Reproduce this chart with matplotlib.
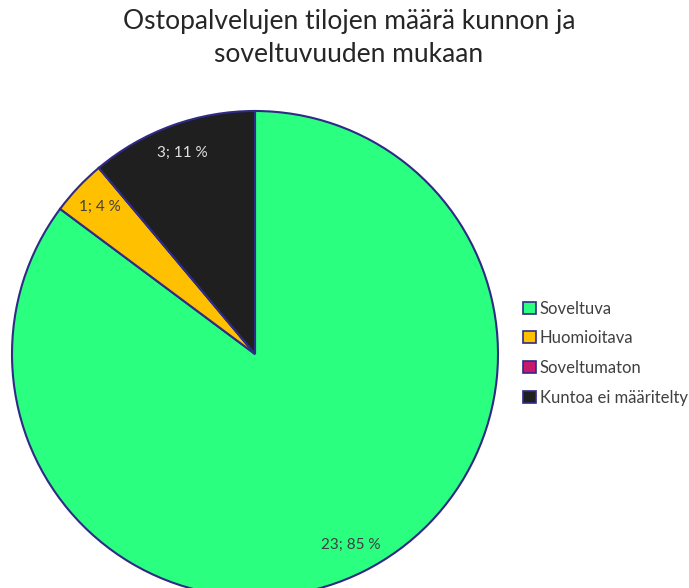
import matplotlib
matplotlib.use("Agg")
import matplotlib.pyplot as plt
from matplotlib.patches import Patch

plt.rcParams['font.family'] = ['Lato', 'DejaVu Sans']

# data
labels = ['Soveltuva', 'Huomioitava', 'Soveltumaton', 'Kuntoa ei määritelty']
counts = [23, 1, 0, 3]
colors = ['#2BFF80', '#FFC000', '#C8186E', '#1F1F1F']
txt_colors = ['#404040', '#404040', '#404040', '#E0E0E0']
edge = '#2E2A86'

total = sum(counts)

def fmt(pct):
    n = int(round(pct * total / 100.0))
    if n == 0:
        return ''
    return '%d; %d %%' % (n, round(pct))

fig = plt.figure(figsize=(6.89, 5.88), dpi=100)
# pie area in pixels: x 12..498, y 111..597 (top origin)
ax = fig.add_axes([12 / 689, (588 - 597) / 588, 486 / 689, 486 / 588])
wedges, texts, autotexts = ax.pie(counts, colors=colors, startangle=90, counterclock=False,
                                  autopct=fmt, pctdistance=0.88, radius=1,
                                  wedgeprops=dict(edgecolor=edge, linewidth=1.5),
                                  textprops=dict(fontsize=11))
for t, c in zip(autotexts, txt_colors):
    t.set_color(c)
ax.set_xlim(-1.0, 1.0)
ax.set_ylim(-1.0, 1.0)
ax.set_aspect('equal')
ax.axis('off')

fig.text(349 / 689, 1 - 22 / 588, 'Ostopalvelujen tilojen määrä kunnon ja',
         ha='center', va='center', fontsize=19, color='#262626')
fig.text(349 / 689, 1 - 55 / 588, 'soveltuvuuden mukaan',
         ha='center', va='center', fontsize=19, color='#262626')

handles = [Patch(facecolor=c, edgecolor=edge, linewidth=1.2) for c in colors]
fig.legend(handles, labels, loc='center left', bbox_to_anchor=(523 / 689, 1 - 353 / 588),
           frameon=False, fontsize=12, handlelength=0.75, handleheight=0.75,
           handletextpad=0.25, labelspacing=0.82, labelcolor='#404040',
           borderpad=0, borderaxespad=0)

fig.savefig('out.png', dpi=100)
